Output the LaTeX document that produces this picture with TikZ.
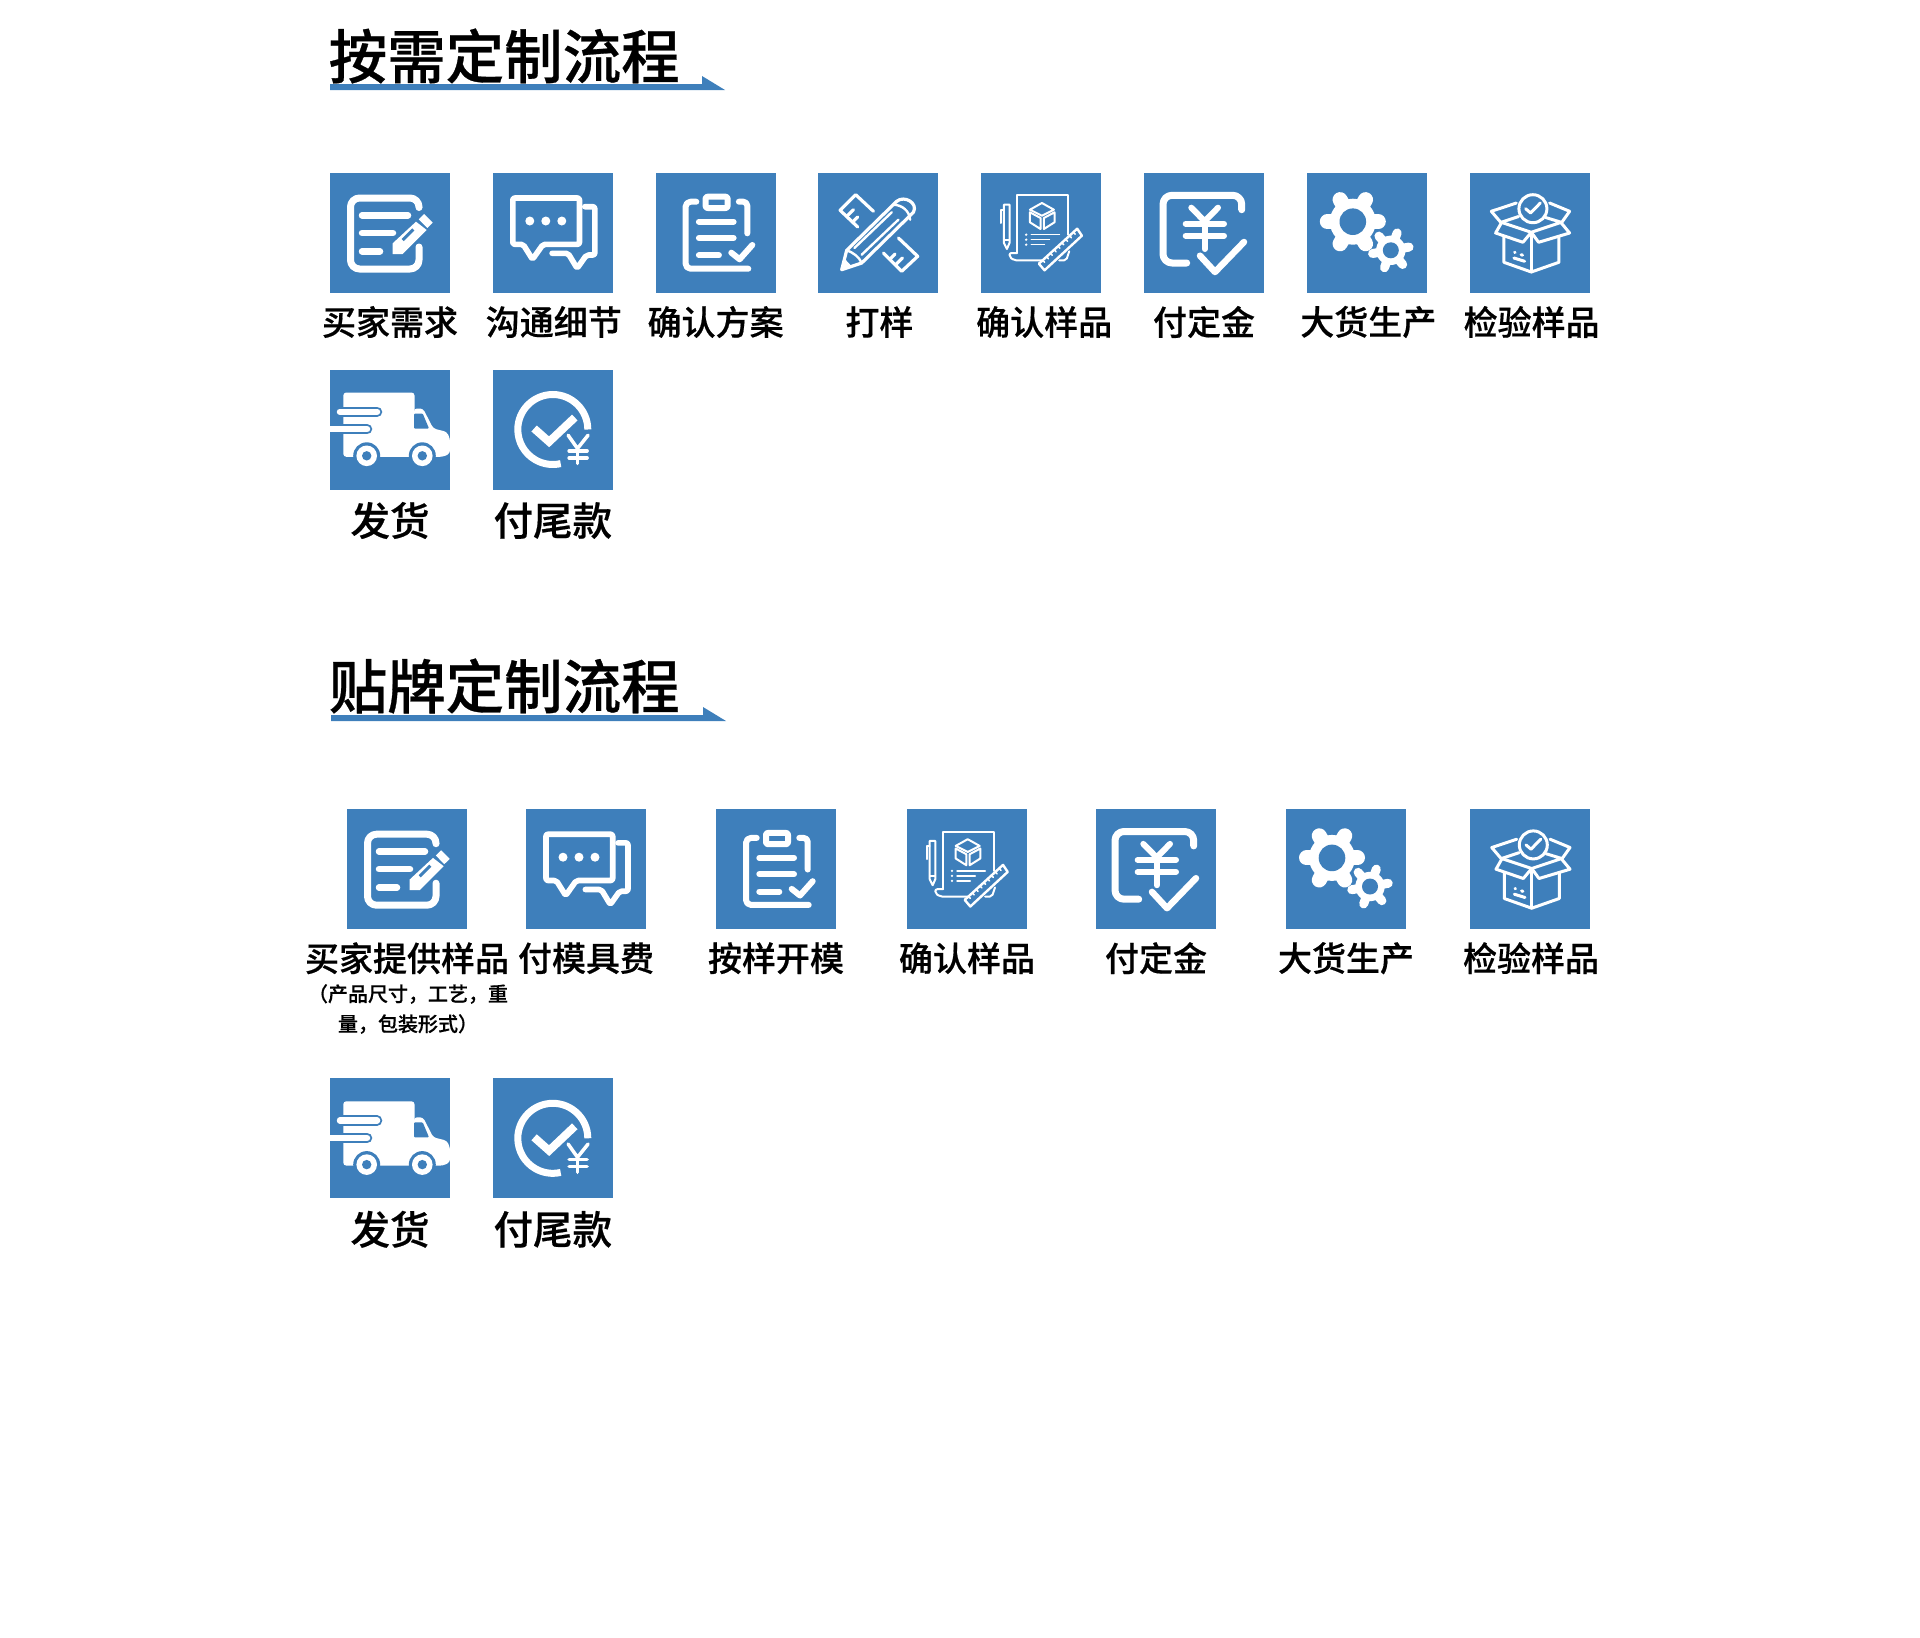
\documentclass[tikz,border=0pt]{standalone}
\usepackage{fontspec}
\setmainfont{Noto Sans CJK SC}[BoldFont={Noto Sans CJK SC Medium}, BoldFeatures={FakeBold=0.5}]
\usepackage{tikz}
\usetikzlibrary{positioning,calc}
\definecolor{iconblue}{HTML}{3E7FBB}

\tikzset{
    stroke/.style={draw=white, line width=#1, line cap=round, line join=round},
    stroke/.default=6pt,
    % Icons, drawn round the centre of their square
    pics/noteicon/.style={code={
        \draw[stroke=7pt, rounded corners=9pt] (29,25.5) -- (29,35) -- (-39.5,35) -- (-39.5,-36) -- (29,-36) -- (29,-14);
        \draw[stroke=6.5pt] (-28,17.7) -- (18,17.7);
        \draw[stroke=6.5pt] (-28,0) -- (3,0);
        \draw[stroke=6.5pt] (-28,-18.3) -- (-10,-18.3);
        \fill[white] (2.7,-21) -- (12.7,-21) -- (36.7,3) -- (26,11.3) -- (2.7,-10.3) -- cycle;
        \draw[iconblue, line width=3pt] (12.7,-7) -- (23.3,3.5);
        \draw[white, line width=7.5pt] (31.5,16.3) -- (40,7.7);
    }},
    pics/chaticon/.style={code={
        \draw[stroke=5.6pt, rounded corners=2pt] (-29.7,-11.3) -- (-40,-11.3) -- (-40,35) -- (26.7,35) -- (26.7,-11.3) -- (-9.7,-11.3) -- (-20.3,-26.3) -- cycle;
        \draw[stroke=5.6pt, rounded corners=2pt] (32,26.3) -- (42,26.3) -- (42,-22) -- (33.7,-22) -- (24.3,-35.3) -- (15.3,-20.3) -- (-0.7,-20.3);
        \fill[white] (-23,12) circle (4.5) (-7,12) circle (4.5) (9,12) circle (4.5);
    }},
    pics/clipicon/.style={code={
        \draw[stroke, rounded corners=5pt] (-19.3,31.3) -- (-30,31.3) -- (-30,-35.7) -- (32.7,-35.7);
        \draw[stroke, rounded corners=4pt] (23.3,31.3) -- (31.7,31.3) -- (31.7,-0.3);
        \draw[stroke, rounded corners=2pt] (-10,36.3) rectangle (12,25);
        \draw[stroke] (-16.7,11.3) -- (18,11.3);
        \draw[stroke] (-16.7,-5) -- (18,-5);
        \draw[stroke] (-16.7,-22.3) -- (3.3,-22.3);
        \draw[stroke] (15.7,-19.7) -- (24,-26.3) -- (36.7,-12);
    }},
    pics/drafticon/.style={code={
        \draw[stroke=3.2pt] (-5,21.7) -- (-22.7,38.3) -- (-38.3,22.7) -- (-20.7,6);
        \draw[stroke=3.2pt] (-31.7,16.7) -- (-25,23.3);
        \draw[stroke=3.2pt] (-25.7,11) -- (-20.7,16);
        \draw[stroke=3.2pt] (20,-5) -- (39.3,-23.3) -- (23.3,-38.3) -- (5,-20);
        \draw[stroke=3.2pt] (11.7,-26) -- (16.7,-21);
        \draw[stroke=3.2pt] (17.3,-31.7) -- (24,-25);
        \draw[stroke=3.2pt] (-36.7,-36.7) -- (-31.7,-17.3) -- (18.3,31.7) .. controls (26,38) and (40,30) .. (35,20.7) -- (-16.7,-30) -- cycle;
        \draw[stroke=2.4pt] (-24,-15) -- (13.3,20.7);
        \draw[stroke=2.4pt] (-16.7,-21.7) -- (20,13.3);
        \draw[stroke=2.4pt] (15,28.3) .. controls (24,28) and (31,22) .. (31.7,13.3);
        \draw[stroke=2.4pt] (-31.7,-17.3) .. controls (-26,-19) and (-19,-24) .. (-16.7,-30);
        \fill[white] (-36.7,-36.7) -- (-33.5,-26) -- (-27,-33) -- cycle;
    }},
    pics/specicon/.style={code={
        \draw[stroke=2pt] (-24,-20) -- (-24,37.7) -- (26.7,37.7) -- (26.7,-1.7);
        \draw[stroke=2pt, rounded corners=2pt] (-24,-20) -- (-31.7,-20) -- (-31.7,-24) -- (-27,-27.3) -- (5,-27.3);
        \draw[stroke=2pt, rounded corners=2pt] (28,-18.3) -- (25,-27.3) -- (18,-27.3);
        \draw[stroke=2pt] (0.7,30) -- (12.7,23.3) -- (0.7,17.3) -- (-11.3,23.3) -- cycle;
        \draw[stroke=2pt] (-11.3,20.7) -- (-11.3,10.7) -- (-0.7,4) -- (-0.7,15) -- cycle;
        \draw[stroke=2pt] (2.7,15) -- (2.7,4) -- (13.3,10.7) -- (13.3,20.7) -- cycle;
        \draw[stroke=1.4pt] (-10,-1.7) -- (18.3,-1.7);
        \draw[stroke=1.4pt] (-10,-6.7) -- (8.3,-6.7);
        \draw[stroke=1.4pt] (-10,-11.7) -- (3.3,-11.7);
        \fill[white] (-15,-1.7) circle (1.3) (-15,-6.7) circle (1.3) (-15,-11.7) circle (1.3);
        \fill[iconblue] (36,4.3) -- (40.7,-2.7) -- (3.3,-37.3) -- (-2.3,-30.7) -- cycle;
        \draw[stroke=2.4pt] (36,4.3) -- (40.7,-2.7) -- (3.3,-37.3) -- (-2.3,-30.7) -- cycle;
        \foreach \t in {0.1,0.2,...,0.95}
            \draw[stroke=1.6pt] ($(-2.3,-30.7)!\t!(36,4.3)$) -- ++(1.8,-2);
        \draw[stroke=2pt] (-37.3,28.3) -- (-31.7,28.3) -- (-31.7,-10) -- (-34.3,-16) -- (-37.3,-10) -- cycle;
        \draw[stroke=2pt] (-37.3,23.3) -- (-40,23.3) -- (-40,10);
        \draw[stroke=1.6pt] (-37.3,-7) -- (-31.7,-7);
    }},
    pics/payicon/.style={code={
        \draw[stroke=7pt, rounded corners=9pt] (37.7,23.3) -- (37.7,37.7) -- (-41,37.7) -- (-41,-30) -- (-17.3,-30);
        \draw[stroke=6pt] (-12.7,25.3) -- (0.7,11.7) -- (14,25.3);
        \draw[stroke=6pt] (0.7,11.7) -- (0.7,-16);
        \draw[stroke=6pt] (-18.3,9.3) -- (20,9.3);
        \draw[stroke=6pt] (-18.3,-2.7) -- (20,-2.7);
        \draw[stroke=6.5pt] (-4,-22.7) -- (11,-39) -- (40,-9);
    }},
    pics/gearicon/.style={code={
        \fill[white] (-14,11.3) circle (23);
        \foreach \a in {0,60,...,300}
            \draw[stroke=15pt] (-14,11.3) -- ++(\a:25.5);
        \fill[iconblue] (-14,11.3) circle (13.3);
        \fill[white] (24,-17.3) circle (14.7);
        \foreach \a in {10,70,...,310}
            \draw[stroke=9pt] (24,-17.3) -- ++(\a:18.5);
        \fill[iconblue] (24,-17.3) circle (8);
    }},
    pics/boxicon/.style={code={
        \draw[stroke=3pt] (3.3,24.3) circle (14);
        \draw[stroke=3pt] (-4,24.3) -- (1,20) -- (10.7,30);
        \draw[stroke=3pt] (-13.3,30) -- (-38.3,21.7) -- (-28.3,10);
        \draw[stroke=3pt] (20,30) -- (40,21.7) -- (31.7,10);
        \draw[stroke=3pt] (-28.3,10.7) -- (-11,16.5);
        \draw[stroke=3pt] (16,15.5) -- (31.7,10.7) -- (1.7,0.7) -- (-28.3,10.7);
        \draw[stroke=3pt] (-28.3,10) -- (-34,0) -- (-6.7,-9.3) -- (1.7,0.7);
        \draw[stroke=3pt] (1.7,0.7) -- (9,-9.3) -- (40,0) -- (31.7,10);
        \draw[stroke=3pt] (-25.7,-4) -- (-25.7,-29.3) -- (1.7,-39) -- (29.3,-29.3) -- (29.3,-4);
        \draw[stroke=3pt] (1.7,0.7) -- (1.7,-39);
        \draw[stroke=3pt] (-15,-19.3) -- (-14.5,-19.5);
        \draw[stroke=3pt] (-8.5,-21.7) -- (-7,-22.2);
        \draw[stroke=3pt] (-15.7,-25) -- (-5,-28.3);
    }},
    pics/truckicon/.style={code={
        \begin{scope}
        \clip (-60,-60) rectangle (60,60);
        \fill[white, rounded corners=3pt] (-46.7,37) rectangle (24.5,-27.3);
        \fill[white, rounded corners=3pt] (24,21) -- (33,21) -- (43.3,1) -- (56.7,-2.3) -- (60,-9) -- (60,-24) -- (53,-27.3) -- (24,-27.3) -- cycle;
        \fill[iconblue, rounded corners=1pt] (24,16) -- (32.7,16) -- (39,1) -- (24,1) -- cycle;
        \draw[iconblue, line width=10.5pt, line cap=round] (-50,17.7) -- (-13,17.7);
        \draw[iconblue, line width=10.5pt, line cap=round] (-58,0.3) -- (-23,0.3);
        \draw[white, line width=6.5pt, line cap=round] (-50,17.7) -- (-13,17.7);
        \draw[white, line width=6.5pt, line cap=round] (-64,0.3) -- (-23,0.3);
        \fill[iconblue] (-23.3,-26.3) circle (13.5) (32.3,-26.3) circle (13.5);
        \fill[white] (-23.3,-26.3) circle (10.3) (32.3,-26.3) circle (10.3);
        \fill[iconblue] (-23.3,-26.3) circle (4.7) (32.3,-26.3) circle (4.7);
        \end{scope}
    }},
    pics/settleicon/.style={code={
        \draw[white, line width=7pt] (35,0) arc[start angle=0, end angle=283, radius=35];
        \draw[white, line width=8pt] (-18.7,1) -- (-3.7,-12.3) -- (22,12);
        \draw[stroke=3.5pt] (15.3,-5.7) -- (24.7,-19) -- (35.3,-5.7);
        \draw[stroke=3.5pt] (24.7,-19) -- (24.7,-34);
        \draw[stroke=3.5pt] (16.3,-21.3) -- (34.3,-21.3);
        \draw[stroke=3.5pt] (16.3,-28.3) -- (34.3,-28.3);
    }},
    pics/titlerule/.style={code={
        \fill[iconblue] (0,6) -- (372,6) -- (372,14) -- (395,0) -- (0,0) -- cycle;
    }}
}

\begin{document}
\begin{tikzpicture}[
    x=1pt, y=1pt,
    node distance=162.8pt,
    iconbox/.style={rectangle, fill=iconblue, minimum size=120pt, inner sep=0pt, outer sep=0pt},
    heading/.style={anchor=west, inner sep=0pt, font=\bfseries\fontsize{58.5}{58.5}\selectfont},
    steplabel/.style={node distance=89pt, inner sep=0pt, font=\bfseries\fontsize{34}{34}\selectfont},
    biglabel/.style={node distance=91pt, inner sep=0pt, font=\bfseries\fontsize{39.5}{39.5}\selectfont},
    notelabel/.style={inner sep=0pt, align=center, font=\bfseries\fontsize{20}{30}\selectfont}
]
\useasboundingbox (0,0) rectangle (1920,-1638);

% Made to order
\node[heading] (titleA) at (328.5,-56) {按需定制流程};
\pic at (330,-90) {titlerule};

\node[iconbox] (demand) at (390,-233) {};
\node[iconbox, right of=demand] (talk) {};
\node[iconbox, right of=talk] (plan) {};
\node[iconbox, right of=plan] (proof) {};
\node[iconbox, right of=proof] (check) {};
\node[iconbox, right of=check] (deposit) {};
\node[iconbox, right of=deposit] (produce) {};
\node[iconbox, right of=produce] (inspect) {};
\node[iconbox, below of=demand, node distance=196.5pt] (ship) {};
\node[iconbox, right of=ship] (balance) {};

\pic at (demand) {noteicon};
\pic at (talk) {chaticon};
\pic at (plan) {clipicon};
\pic at (proof) {drafticon};
\pic at (check) {specicon};
\pic at (deposit) {payicon};
\pic at (produce) {gearicon};
\pic at (inspect) {boxicon};
\pic at (ship) {truckicon};
\pic at (balance) {settleicon};

\node[steplabel, below of=demand] (demandtext) {买家需求};
\node[steplabel, below of=talk, xshift=1pt] (talktext) {沟通细节};
\node[steplabel, below of=plan] (plantext) {确认方案};
\node[steplabel, below of=proof, xshift=1pt] (prooftext) {打样};
\node[steplabel, below of=check, xshift=3pt] (checktext) {确认样品};
\node[steplabel, below of=deposit] (deposittext) {付定金};
\node[steplabel, below of=produce, xshift=1.5pt] (producetext) {大货生产};
\node[steplabel, below of=inspect, xshift=2pt] (inspecttext) {检验样品};
\node[biglabel, below of=ship] (shiptext) {发货};
\node[biglabel, below of=balance] (balancetext) {付尾款};

% Own label
\node[heading] (titleB) at (328.5,-686) {贴牌定制流程};
\pic at (331,-721) {titlerule};

\node[iconbox] (sample) at (407,-869.2) {};
\node[iconbox, right of=sample, xshift=16.2pt] (mouldfee) {};
\node[iconbox, right of=mouldfee, xshift=27.2pt] (mould) {};
\node[iconbox, right of=mould, xshift=28.2pt] (check2) {};
\node[iconbox, right of=check2, xshift=26.2pt] (deposit2) {};
\node[iconbox, right of=deposit2, xshift=27.2pt] (produce2) {};
\node[iconbox, right of=produce2, xshift=21.2pt] (inspect2) {};
\node[iconbox] (ship2) at (390,-1138.3) {};
\node[iconbox, right of=ship2] (balance2) {};

\pic at (sample) {noteicon};
\pic at (mouldfee) {chaticon};
\pic at (mould) {clipicon};
\pic at (check2) {specicon};
\pic at (deposit2) {payicon};
\pic at (produce2) {gearicon};
\pic at (inspect2) {boxicon};
\pic at (ship2) {truckicon};
\pic at (balance2) {settleicon};

\node[steplabel, below of=sample] (sampletext) {买家提供样品};
\node[steplabel, below of=mouldfee] (mouldfeetext) {付模具费};
\node[steplabel, below of=mould] (mouldtext) {按样开模};
\node[steplabel, below of=check2] (check2text) {确认样品};
\node[steplabel, below of=deposit2] (deposit2text) {付定金};
\node[steplabel, below of=produce2] (produce2text) {大货生产};
\node[steplabel, below of=inspect2, xshift=1pt] (inspect2text) {检验样品};
\node[biglabel, below of=ship2] (ship2text) {发货};
\node[biglabel, below of=balance2] (balance2text) {付尾款};
\node[notelabel] (samplenote) at (408,-1009) {（产品尺寸，工艺，重\\量，包装形式）};

\end{tikzpicture}
\end{document}
